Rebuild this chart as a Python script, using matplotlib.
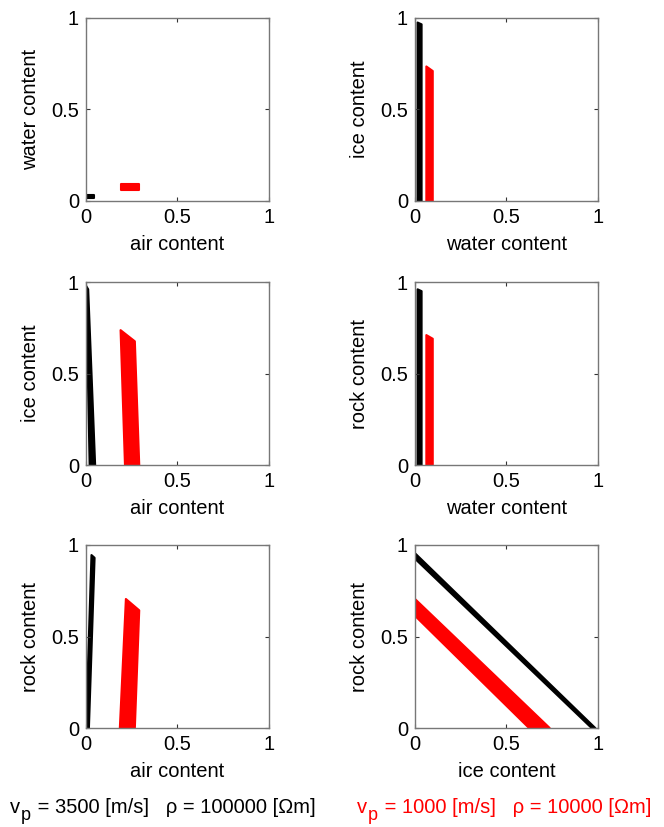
import matplotlib
matplotlib.use('Agg')
import matplotlib.pyplot as plt
from matplotlib.transforms import offset_copy

plt.rcParams['font.family'] = ['Liberation Sans', 'DejaVu Sans']

# region outlines (polygon vertices)
# panel 1: water vs air
p1_black_x = [0.0, 0.045, 0.045, 0.0]
p1_black_y = [0.016, 0.016, 0.032, 0.032]
p1_red_x = [0.19, 0.29, 0.29, 0.19]
p1_red_y = [0.062, 0.062, 0.093, 0.093]
# panel 2: ice vs water
p2_black_x = [0.014, 0.036, 0.036, 0.014]
p2_black_y = [0.0, 0.0, 0.965, 0.975]
p2_red_x = [0.062, 0.097, 0.097, 0.062]
p2_red_y = [0.0, 0.0, 0.71, 0.735]
# panel 3: ice vs air
p3_black_x = [0.02, 0.05, 0.012, 0.0]
p3_black_y = [0.0, 0.0, 0.96, 0.98]
p3_red_x = [0.213, 0.291, 0.267, 0.189]
p3_red_y = [0.0, 0.0, 0.676, 0.737]
# panel 4: rock vs water
p4_black_x = [0.014, 0.036, 0.036, 0.014]
p4_black_y = [0.0, 0.0, 0.95, 0.96]
p4_red_x = [0.062, 0.097, 0.097, 0.062]
p4_red_y = [0.0, 0.0, 0.69, 0.71]
# panel 5: rock vs air
p5_black_x = [0.0, 0.016, 0.047, 0.03]
p5_black_y = [0.0, 0.0, 0.93, 0.945]
p5_red_x = [0.185, 0.267, 0.291, 0.218]
p5_red_y = [0.0, 0.0, 0.643, 0.705]
# panel 6: rock vs ice
p6_black_x = [0.0, 0.985, 0.965, 0.0]
p6_black_y = [0.955, 0.0, 0.0, 0.925]
p6_red_x = [0.0, 0.736, 0.623, 0.0]
p6_red_y = [0.705, 0.0, 0.0, 0.613]

panels = [
    (p1_black_x, p1_black_y, p1_red_x, p1_red_y, 'air content', 'water content'),
    (p2_black_x, p2_black_y, p2_red_x, p2_red_y, 'water content', 'ice content'),
    (p3_black_x, p3_black_y, p3_red_x, p3_red_y, 'air content', 'ice content'),
    (p4_black_x, p4_black_y, p4_red_x, p4_red_y, 'water content', 'rock content'),
    (p5_black_x, p5_black_y, p5_red_x, p5_red_y, 'air content', 'rock content'),
    (p6_black_x, p6_black_y, p6_red_x, p6_red_y, 'ice content', 'rock content'),
]

ticks = [0, 0.5, 1]
tick_labels = ['0', '0.5', '1']

# the two parameter sets (black / red)
vp_vals = [3500, 1000]
rho_vals = [100000, 10000]
set_colors = ['black', 'red']

fig = plt.figure(figsize=(6.64, 8.27), dpi=100)
lefts = [0.1295, 0.625]
bottoms = [0.757, 0.4377, 0.1197]
w, h = 0.2756, 0.2213

for i, (bx, by, rx, ry, xl, yl) in enumerate(panels):
    ax = fig.add_axes([lefts[i % 2], bottoms[i // 2], w, h])
    ax.fill(bx, by, color='black', lw=1.5, joinstyle='round')
    ax.fill(rx, ry, color='red', lw=1.5, joinstyle='round')
    ax.set_xlim(0, 1)
    ax.set_ylim(0, 1)
    ax.set_xticks(ticks)
    ax.set_xticklabels(tick_labels)
    ax.set_yticks(ticks)
    ax.set_yticklabels(tick_labels)
    ax.tick_params(direction='in', length=3, width=0.8, color='#333333',
                   top=True, right=True, labelsize=14.5, pad=5)
    for s in ax.spines.values():
        s.set_color('#777777')
        s.set_linewidth(1.0)
    ax.set_xlabel(xl, fontsize=14.5, labelpad=6)
    ax.set_ylabel(yl, fontsize=14.5, labelpad=8)

# bottom captions: v, subscript p (lowered), then the rest
fig.canvas.draw()
r = fig.canvas.get_renderer()
starts = [0.015, 0.538]
for k in range(2):
    c = set_colors[k]
    t = fig.text(starts[k], 0.017, 'v', fontsize=14.5, color=c, va='baseline')
    ext = t.get_window_extent(r)
    tr = offset_copy(fig.transFigure, fig=fig, x=ext.width + 0.5, y=-7, units='dots')
    t2 = fig.text(starts[k], 0.017, 'p', fontsize=13, color=c, va='baseline', transform=tr)
    ext2 = t2.get_window_extent(r)
    tr2 = offset_copy(fig.transFigure, fig=fig, x=ext.width + ext2.width + 2, y=0, units='dots')
    fig.text(starts[k], 0.017, ' = %d [m/s]   \u03c1 = %d [\u03a9m]' % (vp_vals[k], rho_vals[k]),
             fontsize=14.5, color=c, va='baseline', transform=tr2)

fig.savefig('out.png', dpi=100)
